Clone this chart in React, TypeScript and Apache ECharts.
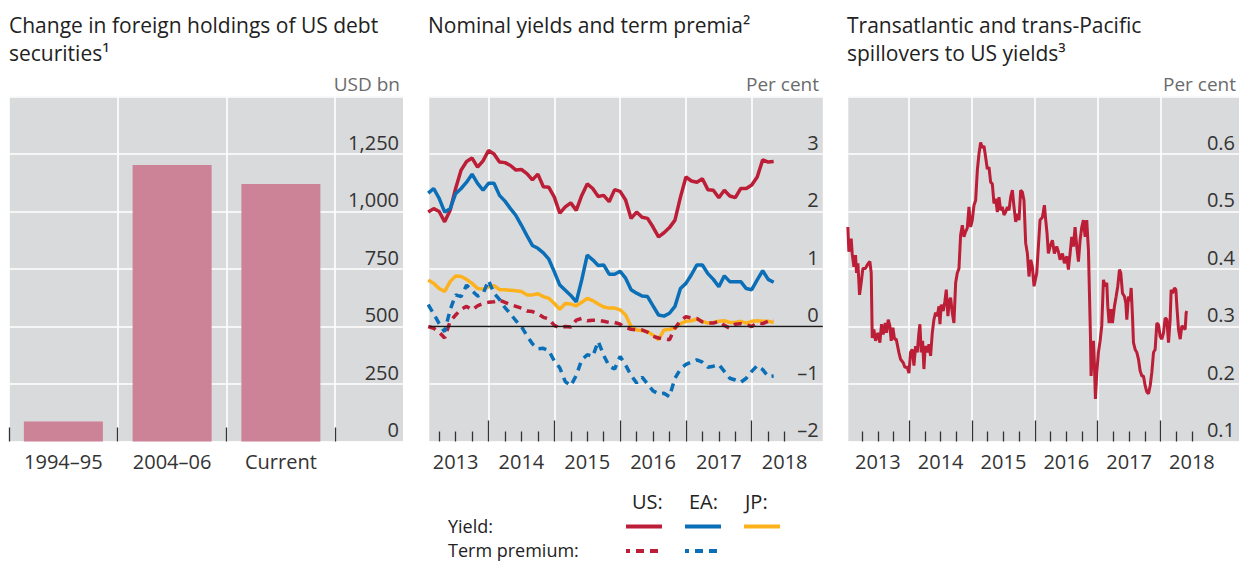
import React, { useEffect, useRef } from 'react';
import * as echarts from 'echarts';

const FONT = '"Open Sans", "Noto Sans", sans-serif';
const BG = '#d9dadc';
const RED = '#bb1e36';
const BLUE = '#0a6fb7';
const ORANGE = '#fdb21d';
const BAR = '#cc8297';
const TXT = '#222222';

// ---------- Panel 1: change in foreign holdings (USD bn) ----------
const periods = ['1994–95', '2004–06', 'Current'];
const holdings = [87, 1202, 1120];

// ---------- Panel 2: monthly, first observation Feb 2013 ----------
const yieldStartYear = 2013;
const yieldStartMonth = 2;
const usYield = [1.99, 2.05, 2.0, 1.82, 2.02, 2.4, 2.72, 2.87, 2.93, 2.77, 2.88, 3.06, 3.0, 2.86, 2.85, 2.8,
  2.72, 2.73, 2.66, 2.55, 2.65, 2.43, 2.42, 2.25, 1.97, 2.08, 2.15, 2.02, 2.28, 2.48, 2.4, 2.26,
  2.28, 2.17, 2.38, 2.35, 2.2, 1.88, 1.99, 1.9, 1.88, 1.73, 1.56, 1.63, 1.72, 1.85, 2.25, 2.6,
  2.53, 2.51, 2.57, 2.38, 2.37, 2.24, 2.37, 2.27, 2.24, 2.4, 2.4, 2.46, 2.6, 2.9, 2.86, 2.87];
const eaYield = [2.32, 2.4, 2.23, 1.99, 2.05, 2.31, 2.4, 2.51, 2.65, 2.49, 2.37, 2.49, 2.49, 2.28, 2.18, 2.05,
  1.93, 1.76, 1.58, 1.41, 1.36, 1.28, 1.17, 0.95, 0.72, 0.63, 0.54, 0.43, 0.81, 1.24, 1.16, 1.06,
  1.07, 0.91, 0.91, 0.96, 0.84, 0.64, 0.58, 0.53, 0.52, 0.36, 0.2, 0.18, 0.23, 0.35, 0.66, 0.75,
  0.9, 1.07, 1.07, 0.92, 0.82, 0.69, 0.88, 0.78, 0.78, 0.78, 0.66, 0.64, 0.81, 0.97, 0.82, 0.77];
const jpYield = [0.81, 0.75, 0.66, 0.61, 0.78, 0.88, 0.87, 0.82, 0.75, 0.66, 0.65, 0.69, 0.71, 0.64, 0.64, 0.63,
  0.62, 0.61, 0.55, 0.55, 0.57, 0.52, 0.49, 0.4, 0.3, 0.4, 0.39, 0.36, 0.42, 0.49, 0.45, 0.39,
  0.34, 0.32, 0.32, 0.29, 0.2, 0.0, -0.06, -0.07, -0.09, -0.15, -0.23, -0.06, -0.05, -0.03, 0.05, 0.09,
  0.1, 0.13, 0.09, 0.06, 0.07, 0.09, 0.1, 0.07, 0.07, 0.09, 0.06, 0.09, 0.1, 0.09, 0.09, 0.07];
const usTermPremium = [0.0, -0.03, -0.1, -0.2, 0.09, 0.2, 0.3, 0.35, 0.29, 0.36, 0.4, 0.42, 0.43, 0.46, 0.42, 0.38,
  0.35, 0.32, 0.27, 0.26, 0.22, 0.16, 0.13, 0.02, -0.03, 0.0, -0.01, 0.11, 0.14, 0.1, 0.11, 0.11,
  0.09, 0.07, 0.07, 0.04, -0.02, -0.05, -0.06, -0.06, -0.1, -0.17, -0.2, -0.21, -0.23, -0.03, 0.1, 0.17,
  0.15, 0.14, 0.08, 0.06, 0.06, 0.09, 0.02, -0.03, 0.04, 0.05, 0.03, 0.0, 0.06, 0.05, 0.09, 0.12];
const eaTermPremium = [0.38, 0.22, 0.05, -0.09, 0.29, 0.55, 0.52, 0.72, 0.62, 0.53, 0.57, 0.8, 0.58, 0.47, 0.33, 0.22,
  0.1, 0.0, -0.16, -0.3, -0.39, -0.38, -0.42, -0.6, -0.72, -0.96, -1.03, -0.85, -0.58, -0.49, -0.52, -0.26,
  -0.5, -0.69, -0.74, -0.52, -0.67, -0.85, -0.98, -0.88, -1.0, -1.12, -1.17, -1.16, -1.22, -0.9, -0.74, -0.66,
  -0.62, -0.58, -0.62, -0.71, -0.69, -0.66, -0.78, -0.9, -0.93, -0.97, -0.9, -0.78, -0.68, -0.75, -0.87, -0.86];

// ---------- Panel 3: spillovers to US yields (per cent), dates as decimal years ----------
const spillDates = [
  2013.023, 2013.039, 2013.076, 2013.092, 2013.119, 2013.145, 2013.161, 2013.183, 2013.209, 2013.235, 2013.262, 2013.304,
  2013.331, 2013.373, 2013.395, 2013.411, 2013.437, 2013.464, 2013.501, 2013.533, 2013.559, 2013.586, 2013.618, 2013.639,
  2013.666, 2013.692, 2013.713, 2013.74, 2013.766, 2013.793, 2013.835, 2013.862, 2013.905, 2013.931, 2013.968, 2013.995,
  2014.021, 2014.048, 2014.075, 2014.101, 2014.128, 2014.154, 2014.17, 2014.191, 2014.213, 2014.234, 2014.255, 2014.287,
  2014.314, 2014.34, 2014.367, 2014.393, 2014.42, 2014.446, 2014.473, 2014.489, 2014.51, 2014.542, 2014.568, 2014.59,
  2014.616, 2014.638, 2014.659, 2014.685, 2014.712, 2014.739, 2014.765, 2014.792, 2014.818, 2014.845, 2014.871, 2014.898,
  2014.924, 2014.951, 2014.978, 2015.004, 2015.031, 2015.057, 2015.084, 2015.11, 2015.137, 2015.163, 2015.19, 2015.217,
  2015.243, 2015.27, 2015.296, 2015.323, 2015.349, 2015.376, 2015.403, 2015.429, 2015.456, 2015.482, 2015.509, 2015.535,
  2015.562, 2015.588, 2015.615, 2015.642, 2015.668, 2015.695, 2015.721, 2015.748, 2015.774, 2015.801, 2015.827, 2015.854,
  2015.881, 2015.907, 2015.934, 2015.96, 2015.987, 2016.03, 2016.056, 2016.083, 2016.12, 2016.152, 2016.173, 2016.194,
  2016.215, 2016.242, 2016.279, 2016.311, 2016.348, 2016.375, 2016.401, 2016.439, 2016.47, 2016.508, 2016.534, 2016.561,
  2016.587, 2016.614, 2016.64, 2016.667, 2016.694, 2016.72, 2016.747, 2016.773, 2016.8, 2016.826, 2016.853, 2016.869,
  2016.885, 2016.895, 2016.917, 2016.933, 2016.949, 2016.964, 2016.986, 2017.012, 2017.039, 2017.065, 2017.092, 2017.119,
  2017.145, 2017.161, 2017.182, 2017.214, 2017.235, 2017.267, 2017.294, 2017.32, 2017.347, 2017.368, 2017.395, 2017.427,
  2017.448, 2017.464, 2017.49, 2017.517, 2017.533, 2017.554, 2017.57, 2017.597, 2017.623, 2017.65, 2017.676, 2017.703,
  2017.729, 2017.756, 2017.783, 2017.809, 2017.836, 2017.862, 2017.889, 2017.915, 2017.942, 2017.968, 2017.995, 2018.022,
  2018.048, 2018.075, 2018.101, 2018.128, 2018.154, 2018.17, 2018.192, 2018.223, 2018.245, 2018.261, 2018.287, 2018.314,
  2018.34, 2018.367, 2018.393, 2018.409, 2018.42];
const spillValues = [
  0.473, 0.43, 0.453, 0.427, 0.404, 0.424, 0.393, 0.41, 0.355, 0.376, 0.401, 0.401,
  0.407, 0.413, 0.393, 0.28, 0.295, 0.275, 0.289, 0.272, 0.304, 0.286, 0.306, 0.289,
  0.312, 0.301, 0.275, 0.298, 0.278, 0.278, 0.255, 0.243, 0.237, 0.229, 0.229, 0.219,
  0.255, 0.26, 0.232, 0.266, 0.255, 0.289, 0.304, 0.255, 0.275, 0.226, 0.266, 0.255,
  0.269, 0.249, 0.289, 0.312, 0.324, 0.318, 0.335, 0.304, 0.338, 0.327, 0.344, 0.364,
  0.318, 0.344, 0.35, 0.324, 0.306, 0.376, 0.393, 0.401, 0.459, 0.476, 0.456, 0.465,
  0.471, 0.508, 0.473, 0.485, 0.511, 0.519, 0.571, 0.6, 0.62, 0.611, 0.614, 0.594,
  0.574, 0.577, 0.551, 0.548, 0.514, 0.522, 0.499, 0.525, 0.502, 0.508, 0.494, 0.499,
  0.508, 0.502, 0.525, 0.537, 0.508, 0.482, 0.496, 0.485, 0.537, 0.534, 0.519, 0.445,
  0.427, 0.387, 0.416, 0.404, 0.37, 0.393, 0.439, 0.485, 0.49, 0.511, 0.485, 0.462,
  0.427, 0.439, 0.45, 0.427, 0.439, 0.43, 0.416, 0.427, 0.41, 0.422, 0.399, 0.427,
  0.456, 0.439, 0.473, 0.439, 0.413, 0.45, 0.473, 0.485, 0.456, 0.485, 0.433, 0.358,
  0.283, 0.214, 0.255, 0.275, 0.232, 0.174, 0.22, 0.255, 0.275, 0.301, 0.381, 0.37,
  0.376, 0.335, 0.306, 0.33, 0.306, 0.335, 0.352, 0.37, 0.399, 0.393, 0.358, 0.352,
  0.341, 0.312, 0.352, 0.344, 0.367, 0.318, 0.272, 0.26, 0.255, 0.243, 0.223, 0.214,
  0.214, 0.197, 0.186, 0.183, 0.197, 0.22, 0.255, 0.26, 0.306, 0.303, 0.283, 0.278,
  0.289, 0.315, 0.312, 0.272, 0.312, 0.364, 0.358, 0.367, 0.364, 0.335, 0.295, 0.278,
  0.301, 0.298, 0.295, 0.324, 0.327];

const yearLabels = [2013, 2014, 2015, 2016, 2017, 2018];

const monthly = (vals: number[]) =>
  vals.map((v, i) => [yieldStartYear + (yieldStartMonth - 1 + i) / 12, v]);

const yearTicks = yearLabels.slice(1);
const yearLabelPos = yearLabels.map((y) => y + 0.5);
const quarterTicks: number[] = [];
yearLabels.forEach((y) => [0.25, 0.5, 0.75].forEach((q) => { if (y + q <= 2018.5) quarterTicks.push(y + q); }));

const gridBase = { top: 96.5, height: 345, show: true, backgroundColor: BG, borderWidth: 0 };
const white = { show: true, lineStyle: { color: '#ffffff', width: 1.6 } };
const tickStyle = { color: '#333333', width: 1.3 };
const labelStyle = { fontFamily: FONT, fontSize: 20, color: '#333333' };

function timeAxes(gridIndex: number, min: number, max: number) {
  return [
    {
      type: 'value', gridIndex, min, max, position: 'bottom',
      axisLine: { show: false, onZero: false },
      axisTick: { show: true, inside: true, length: 21, customValues: yearTicks, lineStyle: tickStyle },
      axisLabel: { ...labelStyle, margin: 10, customValues: yearLabelPos, formatter: (v: number) => String(Math.floor(v)) },
      splitLine: white,
    },
    {
      type: 'value', gridIndex, min, max, position: 'bottom',
      axisLine: { show: false, onZero: false },
      axisTick: { show: true, inside: true, length: 10, customValues: quarterTicks, lineStyle: tickStyle },
      axisLabel: { show: false },
      splitLine: { show: false },
    },
  ];
}

function yAxisOf(gridIndex: number, min: number, max: number, interval: number, fmt: (v: number) => string) {
  return {
    type: 'value', gridIndex, min, max, interval, position: 'right',
    axisLine: { show: false }, axisTick: { show: false },
    axisLabel: { ...labelStyle, inside: true, margin: 4, verticalAlign: 'bottom', showMaxLabel: false, formatter: fmt, padding: [0, 0, 2, 0] },
    splitLine: white,
  };
}

function lineSeries(name: string, data: number[][], color: string, dashed: boolean, xi: number, yi: number, width = 3.5) {
  return {
    name, type: 'line', xAxisIndex: xi, yAxisIndex: yi, data, showSymbol: false, symbol: 'none',
    lineStyle: { color, width, type: dashed ? [8, 6] : 'solid', cap: 'butt' }, emphasis: { disabled: true },
  };
}

const titleStyle = { fontFamily: FONT, fontSize: 21, lineHeight: 28, fontWeight: 'normal', color: TXT };
const unitStyle = { fontFamily: FONT, fontSize: 19, fontWeight: 'normal', color: '#6b6b6b' };
const headFont = { font: `20px ${FONT}`, fill: TXT, textVerticalAlign: 'middle' };
const rowFont = { font: `18px ${FONT}`, fill: TXT, textVerticalAlign: 'middle' };

export default function App() {
  const ref = useRef<HTMLDivElement>(null);
  useEffect(() => {
    if (!ref.current) return;
    const chart = echarts.init(ref.current, undefined, { renderer: 'svg' });
    const fmtNeg = (v: number) => (v < 0 ? '–' + Math.abs(v) : String(v));
    const option: any = {
      animation: false,
      title: [
        { text: 'Change in foreign holdings of US debt\nsecurities¹', left: 4, top: 6, textStyle: titleStyle },
        { text: 'Nominal yields and term premia²', left: 423, top: 6, textStyle: titleStyle },
        { text: 'Transatlantic and trans-Pacific\nspillovers to US yields³', left: 842, top: 6, textStyle: titleStyle },
        { text: 'USD bn', right: 841, top: 74, textStyle: unitStyle, padding: 0 },
        { text: 'Per cent', right: 422, top: 74, textStyle: unitStyle, padding: 0 },
        { text: 'Per cent', right: 5, top: 74, textStyle: unitStyle, padding: 0 },
      ],
      grid: [
        { ...gridBase, left: 9, width: 394 },
        { ...gridBase, left: 429.3, width: 393.5 },
        { ...gridBase, left: 848.3, width: 390.7 },
      ],
      xAxis: [
        {
          type: 'value', gridIndex: 0, min: 0, max: 3.623, position: 'bottom',
          axisLine: { show: false, onZero: false },
          axisTick: { show: true, inside: true, length: 14, customValues: [0, 1, 2, 3], lineStyle: tickStyle },
          axisLabel: { ...labelStyle, margin: 10, customValues: [0.5, 1.5, 2.5], formatter: (v: number) => periods[Math.floor(v)] },
          splitLine: white,
        },
        ...timeAxes(1, 2013.1, 2019.08),
        ...timeAxes(2, 2013.03, 2019.25),
      ],
      yAxis: [
        yAxisOf(0, 0, 1500, 250, (v: number) => v.toLocaleString('en-US')),
        yAxisOf(1, -2, 4, 1, fmtNeg),
        yAxisOf(2, 0.1, 0.7, 0.1, (v: number) => v.toFixed(1)),
      ],
      series: [
        {
          name: 'Change in holdings', type: 'bar', xAxisIndex: 0, yAxisIndex: 0,
          data: holdings.map((v, i) => [i + 0.5, v]), barWidth: 79,
          itemStyle: { color: BAR }, emphasis: { disabled: true },
        },
        {
          ...lineSeries('JP yield', monthly(jpYield), ORANGE, false, 1, 1),
          markLine: {
            silent: true, symbol: 'none', label: { show: false },
            lineStyle: { color: '#1a1a1a', width: 1.3, type: 'solid' },
            data: [{ yAxis: 0 }],
          },
        },
        lineSeries('US yield', monthly(usYield), RED, false, 1, 1),
        lineSeries('EA yield', monthly(eaYield), BLUE, false, 1, 1),
        lineSeries('US term premium', monthly(usTermPremium), RED, true, 1, 1),
        lineSeries('EA term premium', monthly(eaTermPremium), BLUE, true, 1, 1),
        lineSeries('Spillovers', spillDates.map((d, i) => [d, spillValues[i]]), RED, false, 3, 2, 3),
      ],
      graphic: [
        { type: 'text', x: 632, y: 501, style: { text: 'US:', ...headFont } },
        { type: 'text', x: 689, y: 501, style: { text: 'EA:', ...headFont } },
        { type: 'text', x: 745, y: 501, style: { text: 'JP:', ...headFont } },
        { type: 'text', x: 448, y: 525.5, style: { text: 'Yield:', ...rowFont } },
        { type: 'text', x: 448, y: 550, style: { text: 'Term premium:', ...rowFont } },
        { type: 'line', shape: { x1: 626, y1: 526.5, x2: 662, y2: 526.5 }, style: { stroke: RED, lineWidth: 4 } },
        { type: 'line', shape: { x1: 685, y1: 526.5, x2: 721, y2: 526.5 }, style: { stroke: BLUE, lineWidth: 4 } },
        { type: 'line', shape: { x1: 744, y1: 526.5, x2: 780, y2: 526.5 }, style: { stroke: ORANGE, lineWidth: 4 } },
        { type: 'line', shape: { x1: 626, y1: 551, x2: 662, y2: 551 }, style: { stroke: RED, lineWidth: 4, lineDash: [8, 6], lineDashOffset: 4 } },
        { type: 'line', shape: { x1: 685, y1: 551, x2: 721, y2: 551 }, style: { stroke: BLUE, lineWidth: 4, lineDash: [8, 6], lineDashOffset: 4 } },
      ],
    };
    chart.setOption(option);
    return () => chart.dispose();
  }, []);
  return <div ref={ref} style={{ position: 'absolute', left: 0, top: 0, width: 1241, height: 562 }} />;
}
